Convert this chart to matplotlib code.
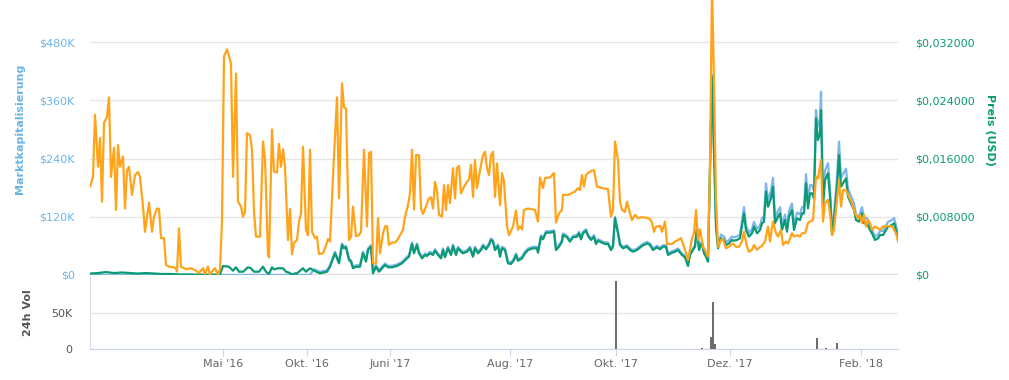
import matplotlib
matplotlib.use("Agg")
import matplotlib.pyplot as plt
from matplotlib.ticker import FuncFormatter

# ordinal sample index (gaps in trading days are removed, like highstock)
orange_idx = [0, 3, 5, 8, 10, 12, 14, 17, 19, 21, 24, 26, 28, 30, 33, 35, 37, 39, 42, 45, 48, 50, 53, 55, 59, 62, 64, 67, 69, 71,
              74, 76, 79, 83, 86, 87, 89, 91, 96, 101, 106, 109, 113, 115, 118, 120, 123, 125, 128, 130, 132, 134, 137, 141, 143,
              146, 148, 151, 153, 155, 157, 160, 162, 164, 166, 170, 173, 175, 178, 179, 182, 184, 187, 189, 191, 193, 195, 198,
              200, 202, 204, 207, 209, 211, 213, 216, 218, 220, 222, 225, 227, 229, 233, 235, 238, 240, 243, 247, 249, 252, 254,
              256, 259, 261, 263, 266, 269, 271, 274, 277, 279, 281, 283, 286, 288, 290, 293, 295, 297, 299, 302, 305, 307, 310,
              313, 315, 318, 320, 322, 324, 326, 329, 331, 333, 336, 339, 341, 343, 345, 347, 349, 352, 354, 356, 358, 360, 363,
              365, 367, 369, 371, 374, 377, 379, 381, 383, 385, 387, 390, 393, 395, 397, 399, 401, 403, 405, 407, 410, 412, 414,
              417, 419, 423, 426, 428, 430, 432, 434, 438, 445, 448, 450, 453, 455, 460, 464, 466, 469, 472, 473, 478, 485, 488,
              490, 492, 494, 496, 498, 502, 504, 507, 512, 518, 521, 523, 525, 528, 530, 532, 535, 537, 540, 542, 545, 548, 552,
              557, 560, 562, 564, 566, 570, 572, 575, 577, 582, 585, 588, 591, 594, 596, 598, 600, 602, 604, 606, 608, 610, 613,
              615, 618, 620, 622, 624, 626, 628, 631, 633, 636, 638, 641, 643, 646, 649, 652, 654, 657, 659, 662, 664, 667, 670,
              672, 675, 678, 680, 683, 686, 688, 691, 693, 696, 698, 702, 704, 707, 710, 712, 715, 718, 720, 723, 726, 728, 731,
              733, 735, 738, 740, 742, 744, 747, 749, 751, 753, 756, 759, 762, 765, 768, 770, 772, 774, 776, 778, 780, 782, 785,
              788, 790, 793, 796, 798, 802, 804, 806, 808]
# orange series, in left-axis units (thousand USD)
orange_k = [182, 202, 330, 223, 282, 151, 313, 326, 366, 202, 262, 134, 268, 223, 244, 137, 216, 223, 165, 206, 212, 202, 141, 89,
            149, 89, 120, 137, 136, 76, 76, 21, 17, 16, 14, 7, 96, 17, 12, 14, 9, 4, 14, 2, 17, 1, 10, 14, 1, 12, 113, 450, 465,
            436, 202, 415, 151, 141, 120, 130, 292, 288, 258, 130, 79, 79, 275, 240, 41, 36, 300, 213, 211, 270, 223, 259, 223,
            72, 136, 43, 66, 72, 110, 127, 264, 93, 82, 258, 89, 76, 79, 43, 45, 55, 74, 69, 202, 366, 158, 395, 345, 343, 72,
            79, 141, 80, 82, 89, 258, 100, 251, 254, 24, 24, 117, 45, 86, 100, 101, 62, 67, 67, 71, 82, 93, 120, 144, 168, 258,
            135, 247, 247, 137, 126, 141, 158, 160, 137, 192, 172, 124, 120, 185, 134, 185, 148, 220, 158, 220, 225, 168, 182,
            192, 197, 227, 161, 237, 179, 216, 247, 254, 220, 206, 247, 254, 161, 230, 144, 210, 192, 100, 82, 100, 133, 93, 100,
            94, 134, 137, 134, 110, 201, 179, 200, 201, 210, 108, 127, 134, 165, 165, 172, 179, 175, 206, 182, 206, 210, 215,
            216, 182, 179, 177, 120, 134, 275, 237, 151, 134, 130, 151, 127, 113, 124, 117, 119, 118, 115, 108, 89, 100, 101,
            89, 110, 64, 64, 69, 72, 76, 58, 45, 31, 52, 76, 86, 134, 72, 94, 58, 52, 38, 223, 600, 395, 155, 58, 72, 74, 55,
            57, 62, 65, 58, 58, 69, 89, 58, 48, 52, 62, 52, 58, 60, 69, 100, 69, 110, 86, 79, 93, 62, 69, 65, 86, 79, 82, 79,
            86, 86, 107, 110, 113, 203, 199, 237, 110, 148, 155, 127, 82, 93, 155, 196, 141, 175, 175, 161, 148, 127, 117, 124,
            107, 124, 100, 113, 107, 93, 100, 96, 93, 100, 100, 101, 100, 93, 86, 69]

price_idx = [0, 8, 16, 24, 32, 40, 48, 56, 64, 72, 80, 90, 100, 110, 120, 130, 133, 139, 143, 146, 149, 153, 158, 161, 164, 169,
             173, 176, 179, 182, 184, 188, 193, 196, 199, 203, 205, 207, 213, 216, 220, 224, 230, 237, 240, 245, 249, 252, 254,
             256, 259, 261, 263, 266, 270, 273, 276, 278, 281, 283, 286, 289, 292, 295, 298, 302, 307, 312, 317, 319, 322, 324,
             327, 329, 332, 335, 337, 340, 343, 345, 348, 351, 353, 355, 358, 361, 363, 366, 368, 371, 373, 377, 380, 383, 385,
             388, 391, 393, 396, 399, 401, 403, 405, 408, 410, 412, 415, 418, 421, 424, 426, 428, 432, 435, 438, 443, 447, 448,
             451, 453, 456, 460, 464, 466, 469, 472, 473, 477, 480, 483, 487, 489, 491, 493, 496, 498, 501, 504, 506, 508, 512,
             515, 518, 521, 523, 525, 528, 530, 533, 537, 540, 543, 547, 552, 557, 560, 563, 567, 570, 573, 576, 578, 582, 585,
             588, 592, 595, 598, 600, 603, 605, 607, 609, 612, 614, 616, 618, 620, 622, 624, 626, 628, 631, 634, 636, 639, 642,
             644, 647, 650, 654, 656, 659, 662, 664, 667, 670, 672, 674, 676, 678, 681, 683, 685, 688, 690, 692, 695, 697, 699,
             702, 704, 707, 710, 712, 714, 716, 718, 720, 722, 724, 726, 728, 730, 731, 733, 735, 738, 740, 742, 744, 747, 749,
             751, 753, 756, 758, 761, 764, 766, 769, 772, 774, 777, 780, 782, 785, 788, 790, 793, 796, 798, 802, 804, 806, 808]
# price in USD (right axis)
price_usd = [0.00020, 0.00027, 0.00040, 0.00027, 0.00034, 0.00027, 0.00020, 0.00027, 0.00020, 0.00014, 0.00014, 0.00007,
             0.00007, 0.00004, 0.00004, 0.00007, 0.00124, 0.00114, 0.00059, 0.00106, 0.00045, 0.00045, 0.00106, 0.00092,
             0.00045, 0.00045, 0.00114, 0.00045, 0.00014, 0.00106, 0.00078, 0.00092, 0.00092, 0.00045, 0.00032, 0.00002,
             0.00023, 0.00023, 0.00092, 0.00045, 0.00092, 0.00059, 0.00023, 0.00045, 0.00114, 0.00298, 0.00161, 0.00412,
             0.00367, 0.00380, 0.00206, 0.00183, 0.00092, 0.00114, 0.00114, 0.00298, 0.00183, 0.00343, 0.00389, 0.00023,
             0.00114, 0.00045, 0.00092, 0.00137, 0.00106, 0.00106, 0.00124, 0.00161, 0.00229, 0.00251, 0.00426, 0.00298,
             0.00412, 0.00298, 0.00229, 0.00275, 0.00261, 0.00298, 0.00275, 0.00334, 0.00275, 0.00229, 0.00343, 0.00243,
             0.00367, 0.00275, 0.00398, 0.00275, 0.00367, 0.00320, 0.00298, 0.00320, 0.00367, 0.00251, 0.00367, 0.00298,
             0.00343, 0.00398, 0.00353, 0.00412, 0.00481, 0.00457, 0.00343, 0.00398, 0.00251, 0.00367, 0.00343, 0.00161,
             0.00151, 0.00206, 0.00275, 0.00196, 0.00229, 0.00298, 0.00343, 0.00367, 0.00367, 0.00306, 0.00526, 0.00490,
             0.00581, 0.00581, 0.00595, 0.00343, 0.00389, 0.00457, 0.00549, 0.00518, 0.00457, 0.00518, 0.00526, 0.00573,
             0.00490, 0.00573, 0.00608, 0.00536, 0.00481, 0.00526, 0.00426, 0.00471, 0.00444, 0.00426, 0.00426, 0.00343,
             0.00389, 0.00779, 0.00573, 0.00412, 0.00367, 0.00389, 0.00343, 0.00320, 0.00343, 0.00398, 0.00435, 0.00412,
             0.00343, 0.00380, 0.00353, 0.00389, 0.00389, 0.00275, 0.00306, 0.00320, 0.00343, 0.00275, 0.00243, 0.00124,
             0.00275, 0.00343, 0.00389, 0.00641, 0.00343, 0.00444, 0.00298, 0.00251, 0.00183, 0.01487, 0.02723, 0.01717,
             0.00663, 0.00367, 0.00504, 0.00481, 0.00412, 0.00435, 0.00481, 0.00471, 0.00481, 0.00504, 0.00847, 0.00618,
             0.00526, 0.00573, 0.00663, 0.00573, 0.00618, 0.00710, 0.00732, 0.01144, 0.00938, 0.01053, 0.01213, 0.00710,
             0.00801, 0.00847, 0.00618, 0.00755, 0.00595, 0.00801, 0.00893, 0.00618, 0.00779, 0.00755, 0.00847, 0.00847,
             0.01259, 0.00916, 0.01122, 0.01122, 0.01053, 0.02152, 0.01854, 0.01946, 0.02266, 0.00938, 0.01305, 0.01397,
             0.01075, 0.00573, 0.00755, 0.01213, 0.01648, 0.01213, 0.01259, 0.01328, 0.01075, 0.00985, 0.00893, 0.00755,
             0.00732, 0.00847, 0.00710, 0.00710, 0.00618, 0.00573, 0.00481, 0.00504, 0.00549, 0.00549, 0.00618, 0.00663,
             0.00687, 0.00710, 0.00618, 0.00504]
# market cap in thousand USD (left axis), same sample index as price
mcap_k = [0, 0, 0, 0, 0, 0, 0, 0, 0, 0, 0, 0, 0, 0, 0, 0, 0, 0, 0, 0, 0, 0, 0, 0, 0, 0, 0, 0, 0, 0,
          0, 0, 0, 0, 0, 0, 0, 0, 0, 0, 0,
          11.9, 6.6, 9.9, 20.2, 47.8, 27.2, 64.9, 58.1, 60.2, 34.0, 30.5, 16.9, 20.2, 20.2, 47.8, 30.5, 54.6, 61.4, 6.6,
          20.2, 9.9, 16.9, 23.7, 19.0, 19.0, 21.6, 27.2, 37.5, 40.8, 67.0, 47.8, 64.9, 47.8, 37.5, 44.3, 42.2, 47.8, 44.3,
          53.1, 44.3, 37.5, 54.6, 39.6, 58.1, 44.3, 62.8, 44.3, 58.1, 51.1, 47.8, 51.1, 58.1, 40.8, 58.1, 47.8, 54.6, 62.8,
          56.0, 64.9, 75.2, 71.7, 54.6, 62.8, 40.8, 58.1, 54.6, 27.2, 25.8, 34.0, 44.3, 32.5, 37.5, 47.8, 54.6, 58.1, 58.1,
          49.0, 82.0, 76.6, 90.2, 90.2, 92.3, 54.6, 61.4, 71.7, 85.5, 80.8, 71.7, 80.8, 82.0, 89.0, 76.6, 89.0, 94.3, 83.4,
          75.2, 82.0, 67.0, 73.7, 69.6, 67.0, 67.0, 54.6, 61.4, 119.9, 89.0, 64.9, 58.1, 61.4, 54.6, 51.1, 54.6, 62.8, 68.4,
          64.9, 54.6, 60.2, 56.0, 61.4, 61.4, 44.3, 49.0, 51.1, 54.6, 44.3, 39.6, 21.6, 44.3, 54.6, 61.4, 99.3, 54.6, 69.6,
          47.8, 40.8, 30.5, 226.6, 412.0, 263.7, 109.0, 60.5, 83.2, 79.3, 68.0, 71.8, 79.3, 77.7, 79.3, 83.2, 139.8, 102.0,
          86.8, 94.5, 109.4, 94.5, 102.0, 117.2, 120.8, 188.8, 154.8, 173.8, 200.1, 117.2, 132.1, 139.8, 102.0, 124.6, 98.1,
          132.1, 147.3, 102.0, 128.5, 124.6, 139.8, 139.8, 207.8, 151.1, 185.1, 185.1, 173.8, 340.0, 305.9, 321.1, 377.6,
          154.8, 215.3, 230.5, 177.4, 94.5, 124.6, 200.1, 274.6, 200.1, 207.8, 219.1, 177.4, 162.5, 147.3, 124.6, 120.8,
          139.8, 117.2, 117.2, 102.0, 94.5, 79.3, 83.2, 90.6, 90.6, 102.0, 109.4, 113.3, 117.2, 102.0, 83.2]

vol_idx = [526, 612, 621, 623, 625, 727, 736, 747]
vol_k = [94.4, 1.4, 17, 65, 7, 15.3, 1.4, 8.3]

month_idx = [133, 217, 300, 420, 526, 640, 771]
month_labels = ["Mai '16", "Okt. '16", "Juni '17", "Aug. '17", "Okt. '17", "Dez. '17", "Feb. '18"]

BLUE = "#7cb5ec"
GREEN = "#0a9b74"
ORANGE = "#ffa31a"
W, H = 1009, 380

fig = plt.figure(figsize=(W / 100, H / 100), dpi=100)
plt.rcParams["font.family"] = "DejaVu Sans"

ax = fig.add_axes([90 / W, 1 - 275 / H, 808 / W, 275 / H])
ax2 = ax.twinx()
axv = fig.add_axes([90 / W, 1 - 349 / H, 808 / W, 72 / H], sharex=ax)

ymax = 275 / 58.25 * 120
ax.set_ylim(0, ymax)
ax2.set_ylim(0, ymax / 15000)
ax.set_xlim(0, 808)

ax.plot(price_idx, mcap_k, color=BLUE, lw=1.6, zorder=3)
ax.plot(orange_idx, orange_k, color=ORANGE, lw=1.6, zorder=5)
ax2.plot(price_idx, price_usd, color=GREEN, lw=1.6, zorder=4)
ax.set_zorder(2)
ax2.set_zorder(1)
ax.patch.set_visible(False)
# put green under orange: draw green on ax via right-axis scaling
ax2.lines[0].remove()
ax.plot(price_idx, [p * 15000 for p in price_usd], color=GREEN, lw=1.6, zorder=4)

ax.set_yticks([0, 120, 240, 360, 480])
ax.yaxis.set_major_formatter(FuncFormatter(lambda v, p: "$0" if v == 0 else f"${v:.0f}K"))
ax2.set_yticks([0, 0.008, 0.016, 0.024, 0.032])
ax2.yaxis.set_major_formatter(FuncFormatter(lambda v, p: "$0" if v == 0 else "$" + f"{v:.6f}".replace(".", ",")))
for s in list(ax.spines.values()) + list(ax2.spines.values()):
    s.set_visible(False)
ax.grid(axis="y", color="#e6e6e6", lw=1, zorder=0)
ax.axhline(0, color="#dcdcdc", lw=2.5, zorder=1)
ax.tick_params(axis="y", length=0, pad=11, labelsize=8, labelcolor="#6ab4e6")
ax2.tick_params(axis="y", length=0, pad=12, labelsize=8, labelcolor=GREEN)
ax.tick_params(axis="x", bottom=False, labelbottom=False)

axv.bar(vol_idx, vol_k, width=2, color="#6e6e6e", zorder=3)
axv.set_ylim(0, 100)
axv.set_yticks([0, 50])
axv.yaxis.set_major_formatter(FuncFormatter(lambda v, p: "0" if v == 0 else f"{v:.0f}K"))
axv.grid(axis="y", color="#e6e6e6", lw=1, zorder=0)
for k in ["top", "right"]:
    axv.spines[k].set_visible(False)
axv.spines["left"].set_color("#d6dce8")
axv.spines["bottom"].set_color("#ccd6eb")
axv.tick_params(axis="y", length=0, pad=13, labelsize=8, labelcolor="#555555")
axv.set_xticks(month_idx)
axv.set_xticklabels(month_labels)
axv.tick_params(axis="x", length=5, color="#ccd6eb", pad=2, labelsize=8, labelcolor="#666666")

fig.text(20 / W, 1 - 129 / H, "Marktkapitalisierung", rotation=90, ha="center", va="center",
         fontsize=8, fontweight="bold", color="#6ab4e6")
fig.text(990 / W, 1 - 130 / H, "Preis (USD)", rotation=270, ha="center", va="center",
         fontsize=8, fontweight="bold", color=GREEN)
fig.text(28 / W, 1 - 313 / H, "24h Vol", rotation=90, ha="center", va="center",
         fontsize=8, fontweight="bold", color="#555555")

fig.savefig("out.png", dpi=100)
